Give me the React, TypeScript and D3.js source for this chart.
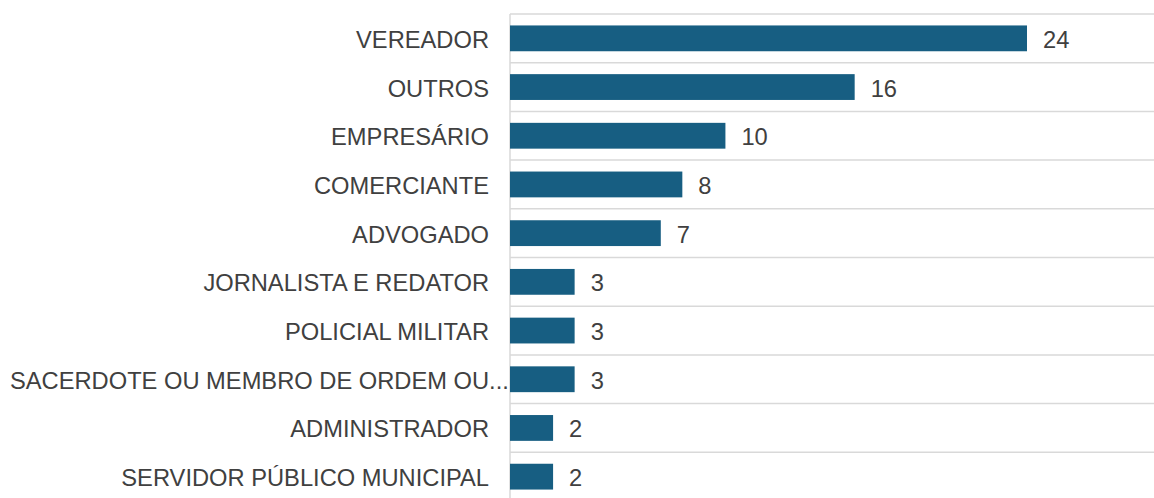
import React from "react";
import * as d3 from "d3";

const categories = [
  "VEREADOR",
  "OUTROS",
  "EMPRESÁRIO",
  "COMERCIANTE",
  "ADVOGADO",
  "JORNALISTA E REDATOR",
  "POLICIAL MILITAR",
  "SACERDOTE OU MEMBRO DE ORDEM OU...",
  "ADMINISTRADOR",
  "SERVIDOR PÚBLICO MUNICIPAL",
];
const values = [24, 16, 10, 8, 7, 3, 3, 3, 2, 2];

const W = 1154;
const H = 498;
const axisX = 510;

export default function App() {
  const x = d3.scaleLinear().domain([0, 24]).range([axisX, 1027]);
  const y = d3.scaleBand<string>().domain(categories).range([14, 501]).paddingInner(0.47).paddingOuter(0.235);
  const step = y.step();
  const font = "'Liberation Sans', Arial, sans-serif";
  return (
    <svg width={W} height={H} style={{ position: "absolute", left: 0, top: 0, background: "#fff" }}>
      {categories.map((c, i) => (
        <line key={"g" + i} x1={axisX} x2={W} y1={14 + i * step} y2={14 + i * step} stroke="#d9d9d9" strokeWidth={1.5} />
      ))}
      <line x1={axisX} x2={axisX} y1={14} y2={H} stroke="#d9d9d9" strokeWidth={1.5} />
      {categories.map((c, i) => {
        const yc = (y(c) as number) + y.bandwidth() / 2 + 1.5;
        const truncated = c.endsWith("...");
        return (
          <g key={c}>
            <rect x={x(0)} y={y(c)} width={x(values[i]) - x(0)} height={y.bandwidth()} fill="#175e82" />
            <text
              x={truncated ? 10 : 489}
              y={yc}
              textAnchor={truncated ? "start" : "end"}
              dominantBaseline="central"
              fontFamily={font}
              fontSize={23.7}
              fill="#404040"
            >
              {c}
            </text>
            <text x={x(values[i]) + 16} y={yc} dominantBaseline="central" fontFamily={font} fontSize={23.7} fill="#404040">
              {values[i]}
            </text>
          </g>
        );
      })}
    </svg>
  );
}
